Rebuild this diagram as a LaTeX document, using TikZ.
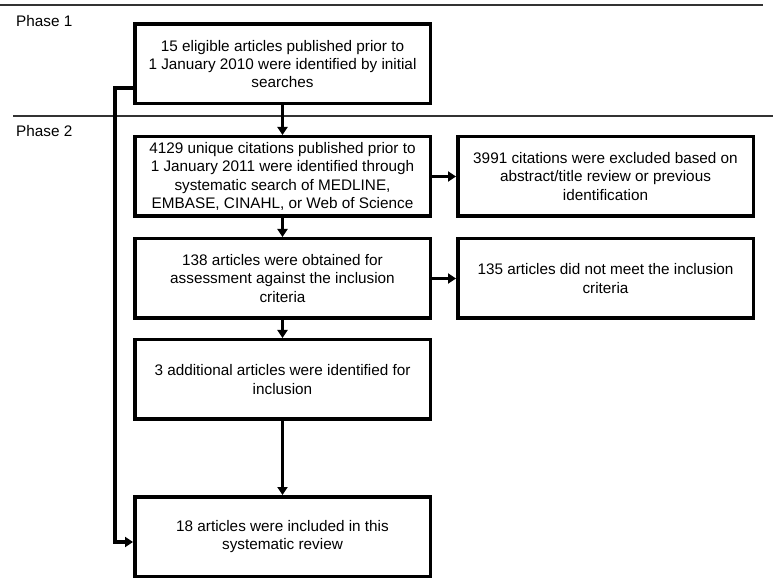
\documentclass[tikz,border=0pt]{standalone}
\usepackage{fontspec}
\setmainfont{Liberation Sans}
\usetikzlibrary{arrows.meta}
\begin{document}
\begin{tikzpicture}[x=1pt,y=-1pt,
  box/.style={draw=black,line width=3.5pt,rectangle,minimum width=295.5pt,minimum height=79.5pt,align=center,inner sep=0pt,font=\fontsize{15.3}{18.3}\selectfont},
  arr/.style={line width=3.2pt,-{Triangle[length=8pt,width=10pt]}},
  phase/.style={anchor=west,inner sep=0pt,font=\fontsize{15.3}{18.3}\selectfont}]
\useasboundingbox (0,0) rectangle (777,585);
\def\xl{282.5};
\def\xr{605.5};

\draw[line width=1.5pt,black!80] (0,5) -- (763,5);
\draw[line width=1.5pt,black!80] (13,116) -- (773,116);
\node[phase] (P1) at (16,21) {Phase 1};
\node[phase] (P2) at (16,131) {Phase 2};

\node[box] (A) at (\xl,64) {15 eligible articles published prior to\\1 January 2010 were identified by initial\\searches};
\node[box] (B) at (\xl,176.5) {4129 unique citations published prior to\\1 January 2011 were identified through\\systematic search of MEDLINE,\\EMBASE, CINAHL, or Web of Science};
\node[box] (C) at (\xr,176.5) {3991 citations were excluded based on\\abstract/title review or previous\\identification};
\node[box] (D) at (\xl,278.5) {138 articles were obtained for\\assessment against the inclusion\\criteria};
\node[box] (E) at (\xr,278.5) {135 articles did not meet the inclusion\\criteria};
\node[box] (F) at (\xl,379.5) {3 additional articles were identified for\\inclusion};
\node[box] (G) at (\xl,536.5) {18 articles were included in this\\systematic review};

\draw[arr] (A) -- (B);
\draw[arr] (B) -- (C);
\draw[arr] (B) -- (D);
\draw[arr] (D) -- (E);
\draw[arr] (D) -- (F);
\draw[arr] (F) -- (G);
\draw[arr] ([yshift=-24pt]A.west) -- ++(-18,0) |- ([yshift=-5.5pt]G.west);
\end{tikzpicture}
\end{document}
